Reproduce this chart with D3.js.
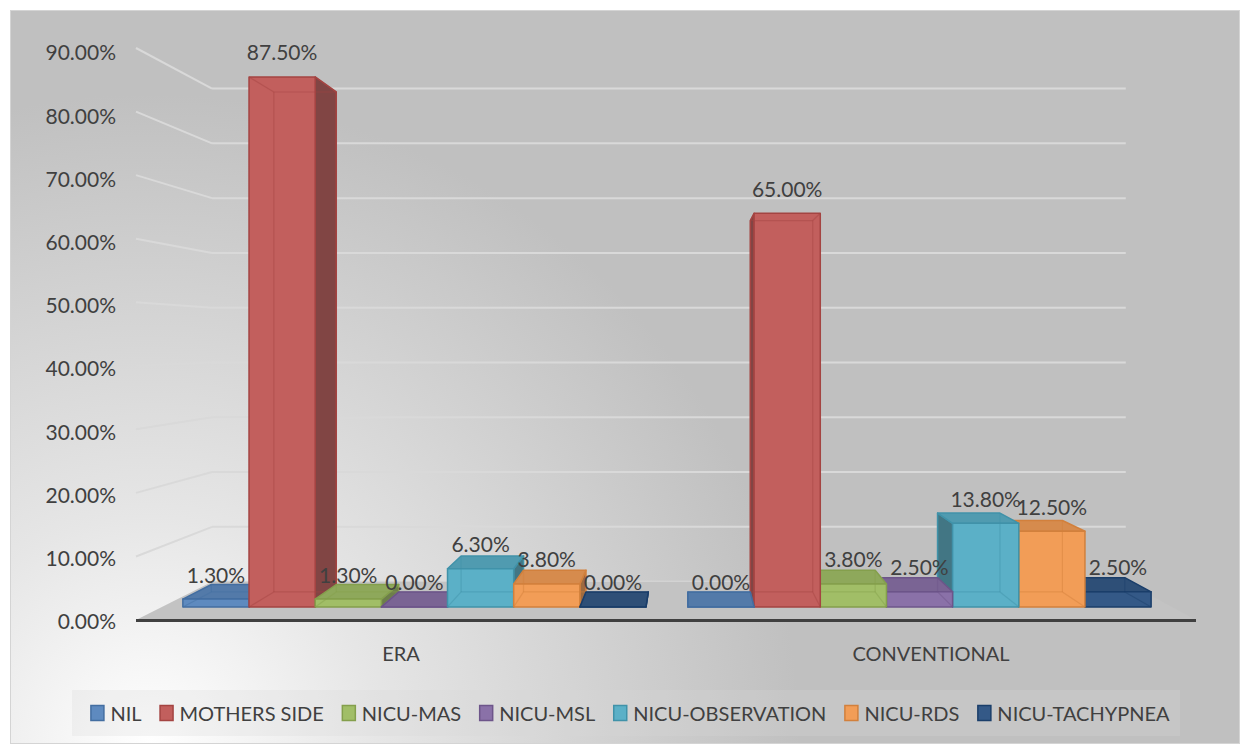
<!DOCTYPE html>
<html>
<head>
<meta charset="utf-8">
<script src="https://cdn.jsdelivr.net/npm/d3@7"></script>
<style>
  html, body { margin: 0; padding: 0; background: #ffffff; }
  svg { display: block; }
  text { font-family: Lato, "Open Sans", sans-serif; fill: #404040; }
</style>
</head>
<body>
<svg id="chart" width="1240" height="744"></svg>
<script>
// ---- data ----
const categories = ["ERA", "CONVENTIONAL"];
const seriesNames = ["NIL", "MOTHERS SIDE", "NICU-MAS", "NICU-MSL", "NICU-OBSERVATION", "NICU-RDS", "NICU-TACHYPNEA"];
const eraValues = [1.3, 87.5, 1.3, 0.0, 6.3, 3.8, 0.0];
const conventionalValues = [0.0, 65.0, 3.8, 2.5, 13.8, 12.5, 2.5];
const yTicks = [0, 10, 20, 30, 40, 50, 60, 70, 80, 90];
const seriesColors = ["#4F81BD", "#C0504D", "#9BBB59", "#8064A2", "#4BACC6", "#F79646", "#1F497D"];

const valuesByCategory = { "ERA": eraValues, "CONVENTIONAL": conventionalValues };

// ---- geometry: one-point perspective ----
const W = 1240, H = 744;
const VP = { x: 687, y: 342 };        // vanishing point
const S_FRONT = 0.953;                // scale of the bar front faces
const S_BACK = 0.899;                 // scale of the bar back faces
const S_WALL = 0.862;                 // scale of the back wall
const fmt = v => d3.format(".2f")(v) + "%";

const svg = d3.select("#chart");
const defs = svg.append("defs");

// front-plane scales
const y = d3.scaleLinear().domain([0, 90]).range([620, 48]);
const yLabel = d3.scaleLinear().domain([0, 90]).range([622, 53]);
const x0 = d3.scaleBand().domain(categories).range([136, 1196]);
const groupW = x0.bandwidth() * 0.917;
const x1 = d3.scaleBand().domain(seriesNames).range([0, groupW]);

const proj = (X, v, s) => [VP.x + s * (X - VP.x), VP.y + s * (y(v) - VP.y)];

// ---- chart area background ----
const bg = defs.append("radialGradient")
  .attr("id", "bgGrad").attr("gradientUnits", "userSpaceOnUse")
  .attr("cx", 150).attr("cy", 744).attr("r", 650);
bg.append("stop").attr("offset", 0).attr("stop-color", "#ffffff");
bg.append("stop").attr("offset", 0.35).attr("stop-color", "#e6e6e6");
bg.append("stop").attr("offset", 1).attr("stop-color", "#c0c0c0");

svg.append("rect")
  .attr("x", 10.5).attr("y", 10.5).attr("width", W - 11).attr("height", H - 11)
  .attr("fill", "url(#bgGrad)").attr("stroke", "#d4d4d4");

// ---- walls: gridlines ----
const xLeft = x0.range()[0], xRight = x0.range()[1];
const grid = svg.append("g");
// back wall
grid.selectAll("line.back").data(yTicks).join("line")
  .attr("class", "back")
  .attr("x1", d => proj(xLeft, d, S_WALL)[0]).attr("y1", d => proj(xLeft, d, S_WALL)[1])
  .attr("x2", d => proj(xRight, d, S_WALL)[0]).attr("y2", d => proj(xRight, d, S_WALL)[1])
  .attr("stroke", "#d9d9d9").attr("stroke-width", 2);
// side wall
grid.selectAll("line.side").data(yTicks.filter(d => d > 0)).join("line")
  .attr("class", "side")
  .attr("x1", xLeft).attr("y1", d => y(d))
  .attr("x2", d => proj(xLeft, d, S_WALL)[0]).attr("y2", d => proj(xLeft, d, S_WALL)[1])
  .attr("stroke", "#d9d9d9").attr("stroke-width", 2);

// ---- floor ----
const floorPts = [proj(xLeft, 0, 1), proj(xRight, 0, 1), proj(xRight, 0, S_WALL), proj(xLeft, 0, S_WALL)];
svg.append("polygon")
  .attr("points", floorPts.map(p => p.join(",")).join(" "))
  .attr("fill", "#c3c3c3");
svg.append("line")
  .attr("x1", xLeft).attr("x2", xRight).attr("y1", y(0) + 0.5).attr("y2", y(0) + 0.5)
  .attr("stroke", "#404040").attr("stroke-width", 3);

// ---- axis labels ----
svg.append("g").selectAll("text").data(yTicks).join("text")
  .attr("x", 116).attr("y", d => yLabel(d)).attr("dy", "0.35em")
  .attr("text-anchor", "end").attr("font-size", 21)
  .text(fmt);

svg.append("g").selectAll("text").data(categories).join("text")
  .attr("x", d => x0(d) + x0.bandwidth() / 2).attr("y", 661)
  .attr("text-anchor", "middle").attr("font-size", 20)
  .text(d => d);

// ---- bars ----
const bars = [];
categories.forEach(c => {
  seriesNames.forEach((s, i) => {
    const xl = x0(c) + (x0.bandwidth() - groupW) / 2 + x1(s);
    const xr = xl + x1.bandwidth();
    bars.push({ cat: c, series: s, i, v: valuesByCategory[c][i], xl, xr, cx: (xl + xr) / 2 });
  });
});
// paint from the outside in, towards the vanishing point
bars.sort((a, b) => Math.abs(b.cx - VP.x) - Math.abs(a.cx - VP.x));

const poly = pts => pts.map(p => p.join(",")).join(" ");
const barLayer = svg.append("g");

bars.forEach(b => {
  const base = d3.color(seriesColors[b.i]);
  const front = d3.interpolateRgb(base, "#d0d0d0")(0.12);
  const top = d3.color(front).darker(0.35);
  const side = d3.interpolateRgb(base.darker(1.3), "#b0b0b0")(0.15);
  const stroke = base.darker(0.45);

  const fLB = proj(b.xl, 0, S_FRONT), fRB = proj(b.xr, 0, S_FRONT);
  const fLT = proj(b.xl, b.v, S_FRONT), fRT = proj(b.xr, b.v, S_FRONT);
  const bLB = proj(b.xl, 0, S_BACK), bRB = proj(b.xr, 0, S_BACK);
  const bLT = proj(b.xl, b.v, S_BACK), bRT = proj(b.xr, b.v, S_BACK);

  const g = barLayer.append("g");
  const rightVisible = b.cx < VP.x;
  const topVisible = bLT[1] < fLT[1];

  const sideFace = rightVisible ? [fRB, fRT, bRT, bRB] : [fLB, fLT, bLT, bLB];
  g.append("polygon").attr("points", poly(sideFace))
    .attr("fill", side).attr("stroke", stroke).attr("stroke-width", 1.5).attr("stroke-linejoin", "round");
  if (topVisible) {
    g.append("polygon").attr("points", poly([fLT, fRT, bRT, bLT]))
      .attr("fill", top).attr("stroke", stroke).attr("stroke-width", 1.5).attr("stroke-linejoin", "round");
  }
  g.append("polygon").attr("points", poly([fLB, fRB, fRT, fLT]))
    .attr("fill", front).attr("stroke", stroke).attr("stroke-width", 1.5).attr("stroke-linejoin", "round");

  // edges seen through the translucent faces
  const hidden = [[bLB, bRB], [bLB, bLT], [bRB, bRT], [fLB, bLB], [fRB, bRB]];
  if (!topVisible) hidden.push([bLT, bRT], [fLT, bLT], [fRT, bRT]);
  g.selectAll("line.h").data(hidden).join("line")
    .attr("x1", d => d[0][0]).attr("y1", d => d[0][1])
    .attr("x2", d => d[1][0]).attr("y2", d => d[1][1])
    .attr("stroke", stroke).attr("stroke-width", 1.2).attr("stroke-opacity", 0.45);
});

// ---- value labels ----
svg.append("g").selectAll("text").data(bars).join("text")
  .attr("x", d => proj(d.cx, d.v, S_FRONT)[0])
  .attr("y", d => proj(d.cx, d.v, S_FRONT)[1] - 16.5)
  .attr("text-anchor", "middle").attr("font-size", 21)
  .text(d => fmt(d.v));

// ---- legend ----
svg.append("rect")
  .attr("x", 72).attr("y", 690).attr("width", 1108).attr("height", 46)
  .attr("fill", "#d8d8d8").attr("fill-opacity", 0.25);
const legend = svg.append("g");
const items = legend.selectAll("g").data(seriesNames).join("g");
items.append("rect")
  .attr("x", 0.5).attr("y", 705.5).attr("width", 13).attr("height", 15)
  .attr("fill", (d, i) => d3.interpolateRgb(seriesColors[i], "#d0d0d0")(0.12))
  .attr("stroke", (d, i) => d3.color(seriesColors[i]).darker(0.45))
  .attr("stroke-width", 1.5);
items.append("text")
  .attr("x", 20).attr("y", 720.5).attr("font-size", 20)
  .text(d => d);
let cursor = 0;
const offsets = [];
items.each(function () {
  offsets.push(cursor);
  const w = d3.select(this).select("text").node().getComputedTextLength();
  cursor += 20 + w + 18;
});
const total = cursor - 18;
const startX = 630 - total / 2;
items.attr("transform", (d, i) => `translate(${startX + offsets[i]},0)`);
</script>
</body>
</html>
